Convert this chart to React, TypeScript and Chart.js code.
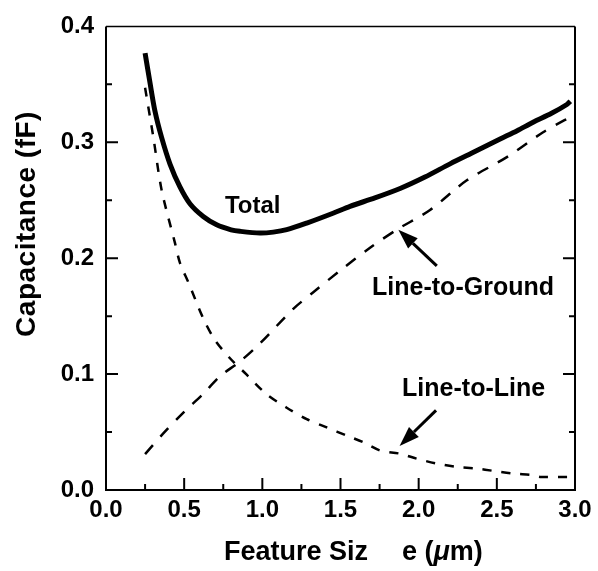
import { useEffect, useRef } from "react";
import { Chart, registerables } from "chart.js";

Chart.register(...registerables);

const FONT = '"Liberation Sans", Arial, Helvetica, sans-serif';

// Feature size (µm) and capacitance (fF) for the three curves
const totalX = [0.25, 0.28, 0.313, 0.356, 0.41, 0.473, 0.537, 0.622, 0.708, 0.8, 0.857, 0.985, 1.07, 1.156, 1.284, 1.452, 1.561, 1.72, 1.881, 2.04, 2.201, 2.36, 2.521, 2.63, 2.732, 2.85, 2.948, 2.97];
const totalY = [0.377, 0.3525, 0.327, 0.304, 0.281, 0.2615, 0.247, 0.236, 0.2288, 0.2245, 0.2232, 0.2217, 0.2225, 0.2246, 0.2303, 0.2388, 0.2448, 0.252, 0.2601, 0.27, 0.2814, 0.292, 0.3028, 0.31, 0.3173, 0.325, 0.3326, 0.3354];

const groundX = [0.25, 0.365, 0.495, 0.62, 0.729, 0.857, 0.985, 1.198, 1.326, 1.497, 1.689, 1.86, 2.073, 2.308, 2.564, 2.796, 2.924, 2.99];
const groundY = [0.031, 0.0486, 0.0668, 0.0827, 0.0981, 0.1109, 0.1265, 0.1563, 0.1706, 0.1893, 0.209, 0.2246, 0.2416, 0.2672, 0.2872, 0.3087, 0.3184, 0.3225];

const lineX = [0.25, 0.303, 0.356, 0.441, 0.473, 0.527, 0.623, 0.697, 0.793, 0.9, 1.028, 1.156, 1.284, 1.412, 1.54, 1.646, 1.753, 1.881, 1.988, 2.116, 2.244, 2.372, 2.478, 2.606, 2.732, 2.777, 2.98];
const lineY = [0.347, 0.3042, 0.2587, 0.2132, 0.196, 0.1791, 0.1478, 0.1294, 0.1137, 0.0995, 0.0825, 0.071, 0.0611, 0.054, 0.0469, 0.0412, 0.0341, 0.0313, 0.027, 0.0228, 0.0199, 0.0185, 0.0165, 0.0142, 0.0128, 0.0113, 0.0113];

// Axis ticks
const xTickValues = [0, 0.5, 1.0, 1.5, 2.0, 2.5, 3.0];
const xMinorTicks = [0.25, 0.75, 1.25, 1.75, 2.25, 2.75];
const yTickValues = [0, 0.1, 0.2, 0.3, 0.4];
const yMinorTicks = [0.05, 0.15, 0.25, 0.35];

// Curve labels (data coordinates of the text's left end / baseline)
const curveLabels = [
  { text: "Total", x: 0.761, y: 0.2388, size: 24 },
  { text: "Line-to-Ground", x: 1.702, y: 0.168, size: 25 },
  { text: "Line-to-Line", x: 1.894, y: 0.081, size: 25 },
];

// Arrows from each label to its curve (tail -> tip, data coordinates)
const arrows = [
  { fromX: 2.116, fromY: 0.1934, toX: 1.87, toY: 0.2246 },
  { fromX: 2.111, fromY: 0.0687, toX: 1.878, toY: 0.038 },
];

const toPoints = (xs: number[], ys: number[]) => xs.map((x, i) => ({ x, y: ys[i] }));

const decorPlugin = {
  id: "decor",
  afterDraw(chart: any) {
    const { ctx, chartArea: a } = chart;
    const xs = chart.scales.x;
    const ys = chart.scales.y;
    ctx.save();
    ctx.strokeStyle = "#000";
    ctx.fillStyle = "#000";

    // frame
    ctx.lineWidth = 2;
    ctx.beginPath();
    ctx.moveTo(a.left, a.top);
    ctx.lineTo(a.left, a.bottom);
    ctx.lineTo(a.right, a.bottom);
    ctx.lineTo(a.right, a.top);
    ctx.stroke();
    ctx.lineWidth = 1.5;
    ctx.beginPath();
    ctx.moveTo(a.left, a.top);
    ctx.lineTo(a.right, a.top);
    ctx.stroke();

    // inward tick marks
    ctx.lineWidth = 2;
    const major = 12;
    const minor = 6;
    const xTick = (v: number, len: number) => {
      const px = xs.getPixelForValue(v);
      ctx.beginPath();
      ctx.moveTo(px, a.bottom);
      ctx.lineTo(px, a.bottom - len);
      ctx.stroke();
    };
    const yTick = (v: number, len: number) => {
      const py = ys.getPixelForValue(v);
      ctx.beginPath();
      ctx.moveTo(a.left, py);
      ctx.lineTo(a.left + len, py);
      ctx.moveTo(a.right, py);
      ctx.lineTo(a.right - len, py);
      ctx.stroke();
    };
    xTickValues.slice(1, -1).forEach((v) => xTick(v, major));
    xMinorTicks.forEach((v) => xTick(v, minor));
    yTickValues.slice(1, -1).forEach((v) => yTick(v, major));
    yMinorTicks.forEach((v) => yTick(v, minor));

    // arrows
    arrows.forEach((ar) => {
      const x0 = xs.getPixelForValue(ar.fromX);
      const y0 = ys.getPixelForValue(ar.fromY);
      const x1 = xs.getPixelForValue(ar.toX);
      const y1 = ys.getPixelForValue(ar.toY);
      const ang = Math.atan2(y1 - y0, x1 - x0);
      const headLen = 20;
      const headHalf = 7;
      const bx = x1 - headLen * Math.cos(ang);
      const by = y1 - headLen * Math.sin(ang);
      ctx.lineWidth = 3;
      ctx.beginPath();
      ctx.moveTo(x0, y0);
      ctx.lineTo(bx, by);
      ctx.stroke();
      ctx.beginPath();
      ctx.moveTo(x1, y1);
      ctx.lineTo(bx + headHalf * Math.sin(ang), by - headHalf * Math.cos(ang));
      ctx.lineTo(bx - headHalf * Math.sin(ang), by + headHalf * Math.cos(ang));
      ctx.closePath();
      ctx.fill();
    });

    // curve labels
    ctx.textAlign = "left";
    ctx.textBaseline = "alphabetic";
    curveLabels.forEach((l) => {
      ctx.font = `bold ${l.size}px ${FONT}`;
      ctx.fillText(l.text, xs.getPixelForValue(l.x), ys.getPixelForValue(l.y));
    });

    // x axis title
    ctx.font = `bold 27px ${FONT}`;
    const base = 560;
    ctx.fillText("Feature Siz", 224, base);
    let cx = 402;
    ctx.fillText("e (", cx, base);
    cx += ctx.measureText("e (").width;
    ctx.font = `italic bold 27px ${FONT}`;
    ctx.fillText("\u03bc", cx, base);
    cx += ctx.measureText("\u03bc").width;
    ctx.font = `bold 27px ${FONT}`;
    ctx.fillText("m)", cx, base);

    // y axis title
    ctx.save();
    ctx.translate(27, 224);
    ctx.rotate(-Math.PI / 2);
    ctx.font = `bold 28px ${FONT}`;
    (ctx as any).letterSpacing = "0.5px";
    ctx.textAlign = "center";
    ctx.textBaseline = "middle";
    ctx.fillText("Capacitance (fF)", 0, 0);
    ctx.restore();

    ctx.restore();
  },
};

export default function App() {
  const canvasRef = useRef<HTMLCanvasElement | null>(null);

  useEffect(() => {
    if (!canvasRef.current) return;
    const tickFont = { family: FONT, size: 24, weight: "bold" as const };
    const chart = new Chart(canvasRef.current, {
      type: "line",
      data: {
        datasets: [
          {
            label: "Total",
            data: toPoints(totalX, totalY),
            borderColor: "#000",
            borderWidth: 5,
            pointRadius: 0,
            tension: 0.3,
            fill: false,
          },
          {
            label: "Line-to-Ground",
            data: toPoints(groundX, groundY),
            borderColor: "#000",
            borderWidth: 2.5,
            borderDash: [12, 11],
            pointRadius: 0,
            tension: 0.3,
            fill: false,
          },
          {
            label: "Line-to-Line",
            data: toPoints(lineX, lineY),
            borderColor: "#000",
            borderWidth: 2.5,
            borderDash: [9, 10],
            pointRadius: 0,
            tension: 0.3,
            fill: false,
          },
        ],
      },
      options: {
        animation: false,
        responsive: true,
        maintainAspectRatio: false,
        layout: { padding: { top: 21, right: 23, left: 0, bottom: 0 } },
        plugins: {
          legend: { display: false },
          tooltip: { enabled: false },
        },
        scales: {
          x: {
            type: "linear",
            min: 0,
            max: 3,
            grid: { display: false, drawTicks: false },
            border: { display: false },
            afterBuildTicks: (s: any) => {
              s.ticks = xTickValues.map((v) => ({ value: v }));
            },
            afterFit: (s: any) => {
              s.height = 81;
            },
            ticks: {
              padding: 6,
              color: "#000",
              font: tickFont,
              autoSkip: false,
              maxRotation: 0,
              callback: (v: any) => Number(v).toFixed(1),
            },
          },
          y: {
            type: "linear",
            min: 0,
            max: 0.4,
            grid: { display: false, drawTicks: false },
            border: { display: false },
            afterBuildTicks: (s: any) => {
              s.ticks = yTickValues.map((v) => ({ value: v }));
            },
            afterFit: (s: any) => {
              s.width = 106;
            },
            ticks: {
              padding: 12,
              color: "#000",
              font: tickFont,
              autoSkip: false,
              callback: (v: any) => Number(v).toFixed(1),
            },
          },
        },
      },
      plugins: [decorPlugin],
    });
    return () => chart.destroy();
  }, []);

  return (
    <div
      style={{
        position: "fixed",
        left: 0,
        top: 0,
        width: 598,
        height: 571,
        background: "#fff",
      }}
    >
      <canvas ref={canvasRef} />
    </div>
  );
}
